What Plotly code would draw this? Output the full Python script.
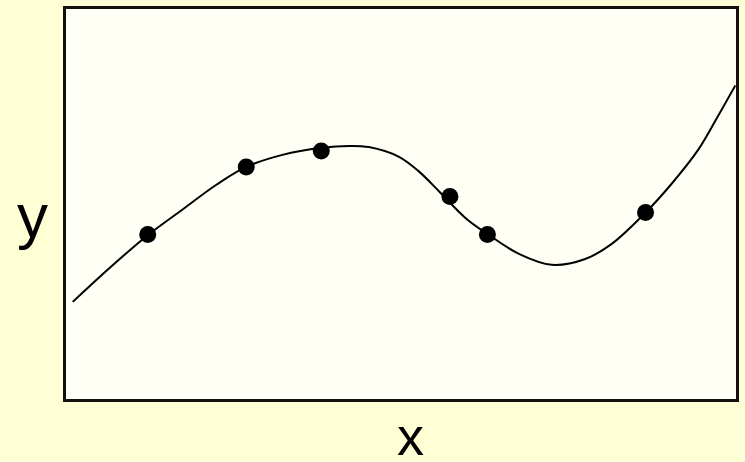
import plotly.graph_objects as go

# Sample points
point_x = [1.22, 2.69, 3.81, 5.73, 6.29, 8.65]
point_y = [4.22, 5.95, 6.36, 5.19, 4.22, 4.78]

# Fitted smooth curve
curve_x = [0.10, 0.65, 1.22, 1.74, 2.25, 2.69, 3.23, 3.81, 4.23, 4.52, 4.97, 5.27,
           5.57, 5.97, 6.30, 6.76, 7.25, 7.75, 8.14, 8.65, 9.03, 9.44, 9.73, 9.99]
curve_y = [2.49, 3.36, 4.20, 4.86, 5.50, 5.95, 6.26, 6.44, 6.49, 6.46, 6.21, 5.83,
           5.32, 4.63, 4.22, 3.72, 3.44, 3.59, 3.97, 4.78, 5.50, 6.40, 7.25, 8.04]

x_label = "x"
y_label = "y"

fig = go.Figure()
fig.add_trace(go.Scatter(x=curve_x, y=curve_y, mode="lines",
                         line=dict(color="black", width=2, shape="spline", smoothing=1.0),
                         hoverinfo="skip", showlegend=False))
fig.add_trace(go.Scatter(x=point_x, y=point_y, mode="markers",
                         marker=dict(color="black", size=17),
                         showlegend=False))

axis_common = dict(showgrid=False, zeroline=False, showticklabels=False, ticks="",
                   showline=True, mirror=True, linecolor="#111111", linewidth=2.5)
fig.update_xaxes(range=[0, 10], **axis_common)
fig.update_yaxes(range=[0, 10], **axis_common)

fig.add_annotation(text=x_label, xref="paper", yref="paper", x=0.514, y=-0.095,
                   xanchor="center", yanchor="middle", showarrow=False,
                   font=dict(family="Liberation Sans, Arial, sans-serif", size=54, color="black"))
fig.add_annotation(text=y_label, xref="paper", yref="paper", x=-0.05, y=0.47,
                   xanchor="center", yanchor="middle", showarrow=False,
                   font=dict(family="Liberation Sans, Arial, sans-serif", size=62, color="black"))

fig.update_layout(width=745, height=462,
                  margin=dict(l=66, r=7, t=6, b=63),
                  paper_bgcolor="#FFFFD6", plot_bgcolor="#FFFFF5")

fig.write_html("out.html", config={"displayModeBar": False},
               post_script="document.body.style.margin='0';document.body.style.background='#FFFFD6';")
